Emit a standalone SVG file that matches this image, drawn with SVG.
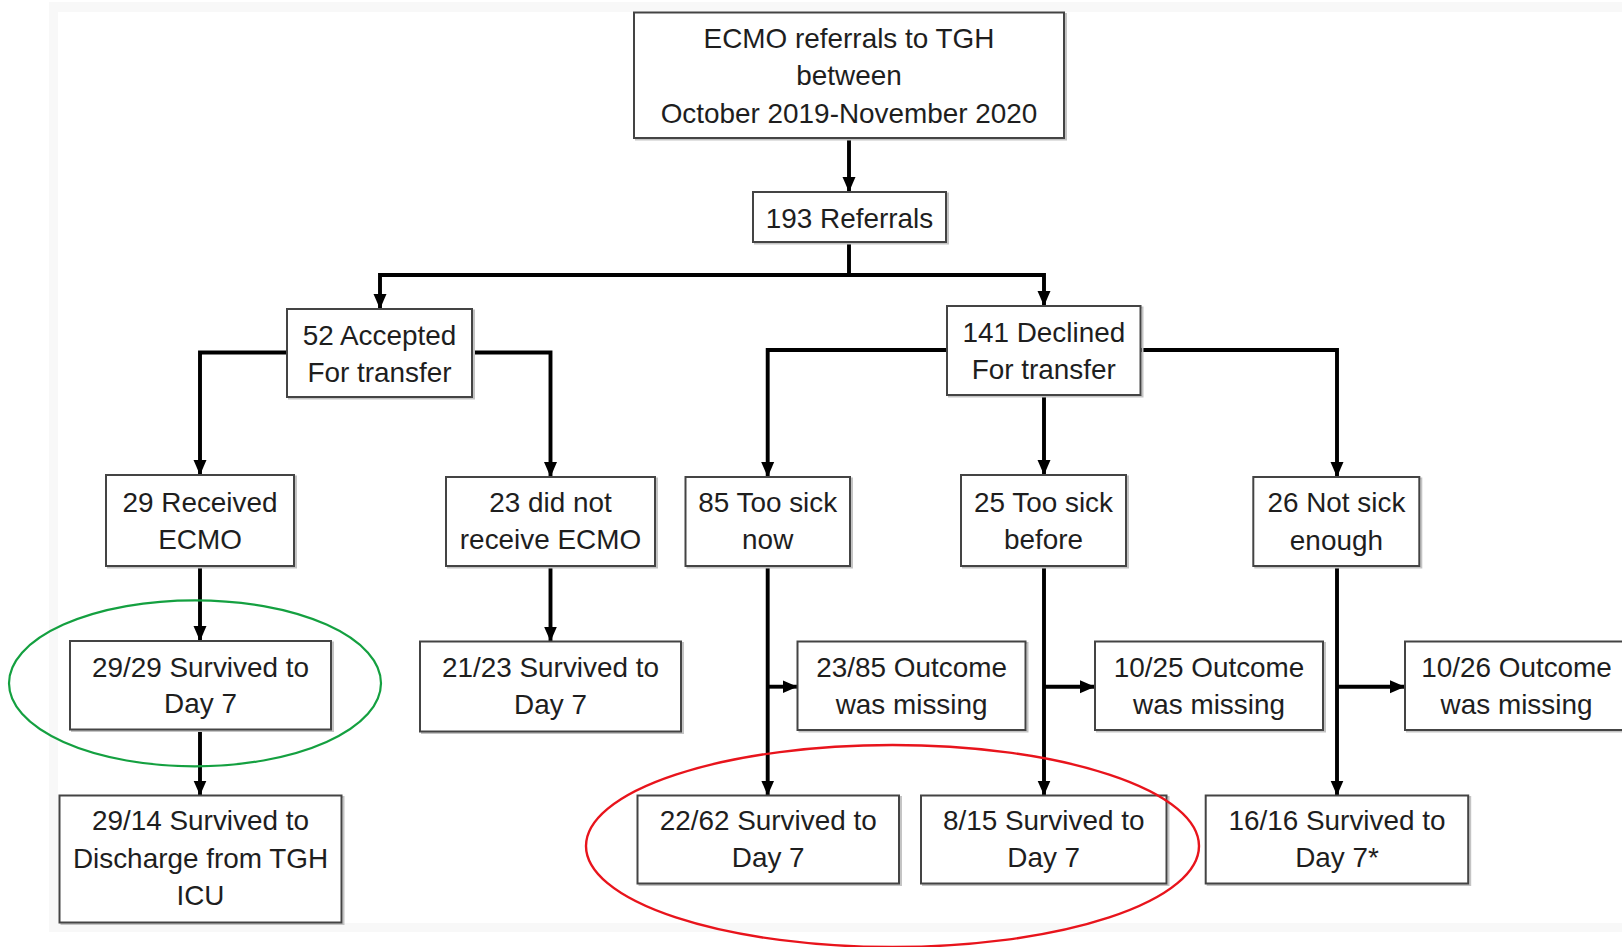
<svg xmlns="http://www.w3.org/2000/svg" width="1622" height="947" viewBox="0 0 1622 947">
<style>
.box{fill:#fff;stroke:#444;stroke-width:2}
.sh{fill:none;stroke:#c4c4c4;stroke-width:2}
.t{font-family:"Liberation Sans",Arial,sans-serif;font-size:27.9px;fill:#1e1e1e;text-anchor:middle}
.c{fill:none;stroke:#000;stroke-width:3.9}
.a{marker-end:url(#ah)}
</style>
<defs>
<marker id="ah" markerUnits="userSpaceOnUse" markerWidth="16" markerHeight="16" viewBox="0 0 16 16" refX="15" refY="8" orient="auto">
<path d="M0,1.5 L15,8 L0,14.5 Z" fill="#000"/>
</marker>
</defs>
<rect x="0" y="0" width="1622" height="947" fill="#fff"/>
<rect x="49" y="2" width="1573" height="930" fill="#f8f8f8"/>
<rect x="58" y="12" width="1564" height="911" fill="#fff"/>

<g id="connectors">
<path class="c a" d="M849,138 V192"/>
<path class="c a" d="M849,242 V275 H380 V309"/>
<path class="c a" d="M849,275 H1044 V306"/>
<path class="c a" d="M287,352.5 H200 V475"/>
<path class="c a" d="M472,352.5 H550.5 V477"/>
<path class="c a" d="M947,350 H767.7 V477"/>
<path class="c a" d="M1044,395 V475"/>
<path class="c a" d="M1140,350 H1337 V477"/>
<path class="c a" d="M200,566 V641"/>
<path class="c a" d="M200,729 V795.5"/>
<path class="c a" d="M550.5,566 V641.5"/>
<path class="c a" d="M767.7,566 V795.5"/>
<path class="c a" d="M767.7,686.7 H797.5"/>
<path class="c a" d="M1044,566 V795.5"/>
<path class="c a" d="M1044,686.7 H1095"/>
<path class="c a" d="M1337,566 V795.5"/>
<path class="c a" d="M1337,686.7 H1405"/>
</g>

<g id="n-top">
<rect class="sh" x="636" y="14" width="430" height="125.5"/>
<rect class="box" x="634" y="12.5" width="430" height="125.5"/>
<text class="t" x="849" y="47.5">ECMO referrals to TGH</text>
<text class="t" x="849" y="85">between</text>
<text class="t" x="849" y="122.5">October 2019-November 2020</text>
</g>
<g id="n-193">
<rect class="sh" x="755" y="193.5" width="193" height="50"/>
<rect class="box" x="753" y="192" width="193" height="50"/>
<text class="t" x="849.5" y="227.5">193 Referrals</text>
</g>
<g id="n-52">
<rect class="sh" x="289" y="310.5" width="185" height="88"/>
<rect class="box" x="287" y="309" width="185" height="88"/>
<text class="t" x="379.5" y="345">52 Accepted</text>
<text class="t" x="379.5" y="381.5">For transfer</text>
</g>
<g id="n-141">
<rect class="sh" x="949" y="307.5" width="193.5" height="89"/>
<rect class="box" x="947" y="306" width="193.5" height="89"/>
<text class="t" x="1043.8" y="341.5">141 Declined</text>
<text class="t" x="1043.8" y="379">For transfer</text>
</g>
<g id="n-29r">
<rect class="sh" x="108" y="476.5" width="188" height="91"/>
<rect class="box" x="106" y="475" width="188" height="91"/>
<text class="t" x="200" y="511.5">29 Received</text>
<text class="t" x="200" y="549">ECMO</text>
</g>
<g id="n-23">
<rect class="sh" x="448" y="478.5" width="209" height="89"/>
<rect class="box" x="446" y="477" width="209" height="89"/>
<text class="t" x="550.5" y="511.5">23 did not</text>
<text class="t" x="550.5" y="549">receive ECMO</text>
</g>
<g id="n-85">
<rect class="sh" x="687.5" y="478.5" width="164.5" height="89"/>
<rect class="box" x="685.5" y="477" width="164.5" height="89"/>
<text class="t" x="767.7" y="511.5">85 Too sick</text>
<text class="t" x="767.7" y="549">now</text>
</g>
<g id="n-25">
<rect class="sh" x="963" y="476.5" width="165" height="91"/>
<rect class="box" x="961" y="475" width="165" height="91"/>
<text class="t" x="1043.5" y="511.5">25 Too sick</text>
<text class="t" x="1043.5" y="549">before</text>
</g>
<g id="n-26">
<rect class="sh" x="1255.3" y="478.5" width="166" height="89"/>
<rect class="box" x="1253.3" y="477" width="166" height="89"/>
<text class="t" x="1336.4" y="512">26 Not sick</text>
<text class="t" x="1336.4" y="549.5">enough</text>
</g>
<g id="n-2929">
<rect class="sh" x="72" y="642.5" width="261" height="88.5"/>
<rect class="box" x="70" y="641" width="261" height="88.5"/>
<text class="t" x="200.5" y="676.5">29/29 Survived to</text>
<text class="t" x="200.5" y="713">Day 7</text>
</g>
<g id="n-2123">
<rect class="sh" x="422" y="643" width="261" height="90"/>
<rect class="box" x="420" y="641.5" width="261" height="90"/>
<text class="t" x="550.5" y="677">21/23 Survived to</text>
<text class="t" x="550.5" y="713.5">Day 7</text>
</g>
<g id="n-2385">
<rect class="sh" x="799.5" y="643" width="228" height="88.5"/>
<rect class="box" x="797.5" y="641.5" width="228" height="88.5"/>
<text class="t" x="911.6" y="677">23/85 Outcome</text>
<text class="t" x="911.6" y="713.5">was missing</text>
</g>
<g id="n-1025">
<rect class="sh" x="1097" y="643" width="228" height="88.5"/>
<rect class="box" x="1095" y="641.5" width="228" height="88.5"/>
<text class="t" x="1209" y="677">10/25 Outcome</text>
<text class="t" x="1209" y="713.5">was missing</text>
</g>
<g id="n-1026">
<rect class="sh" x="1407" y="643" width="230" height="88.5"/>
<rect class="box" x="1405" y="641.5" width="230" height="88.5"/>
<text class="t" x="1516.5" y="677">10/26 Outcome</text>
<text class="t" x="1516.5" y="713.5">was missing</text>
</g>
<g id="n-2914">
<rect class="sh" x="61.5" y="797" width="282" height="127"/>
<rect class="box" x="59.5" y="795.5" width="282" height="127"/>
<text class="t" x="200.5" y="830">29/14 Survived to</text>
<text class="t" x="200.5" y="867.5">Discharge from TGH</text>
<text class="t" x="200.5" y="905">ICU</text>
</g>
<g id="n-2262">
<rect class="sh" x="639.5" y="797" width="261.5" height="88"/>
<rect class="box" x="637.5" y="795.5" width="261.5" height="88"/>
<text class="t" x="768.2" y="830">22/62 Survived to</text>
<text class="t" x="768.2" y="867">Day 7</text>
</g>
<g id="n-815">
<rect class="sh" x="923" y="797" width="245.5" height="88"/>
<rect class="box" x="921" y="795.5" width="245.5" height="88"/>
<text class="t" x="1043.7" y="830">8/15 Survived to</text>
<text class="t" x="1043.7" y="867">Day 7</text>
</g>
<g id="n-1616">
<rect class="sh" x="1207.7" y="797" width="262.5" height="88"/>
<rect class="box" x="1205.7" y="795.5" width="262.5" height="88"/>
<text class="t" x="1337" y="830">16/16 Survived to</text>
<text class="t" x="1337" y="867">Day 7*</text>
</g>

<g id="highlights">
<ellipse cx="195" cy="683.3" rx="186" ry="83" fill="none" stroke="#14a040" stroke-width="2.2"/>
<ellipse cx="892.5" cy="846" rx="306.5" ry="101" fill="none" stroke="#e8141c" stroke-width="2.4"/>
</g>
</svg>
